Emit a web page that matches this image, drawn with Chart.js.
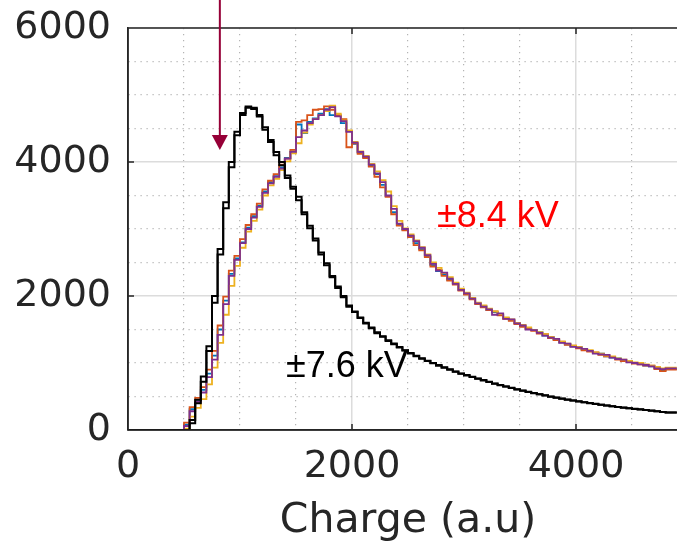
<!DOCTYPE html>
<html>
<head>
<meta charset="utf-8">
<script src="https://cdn.jsdelivr.net/npm/chart.js@4"></script>
<style>
html,body{margin:0;padding:0;background:#fff;overflow:hidden;}
#wrap{position:absolute;left:0;top:0;width:700px;height:541px;}
</style>
</head>
<body>
<div id="wrap"><canvas id="c"></canvas></div>
<script>
// ---- data ----
const binStart = [0,50,100,150,200,250,300,350,400,450,500,550,600,650,700,750,800,850,900,950,
1000,1050,1100,1150,1200,1250,1300,1350,1400,1450,1500,1550,1600,1650,1700,1750,1800,1850,1900,1950,
2000,2050,2100,2150,2200,2250,2300,2350,2400,2450,2500,2550,2600,2650,2700,2750,2800,2850,2900,2950,
3000,3050,3100,3150,3200,3250,3300,3350,3400,3450,3500,3550,3600,3650,3700,3750,3800,3850,3900,3950,
4000,4050,4100,4150,4200,4250,4300,4350,4400,4450,4500,4550,4600,4650,4700,4750,4800,4850];
const binEnd = 4900;

// ±7.6 kV (black, two overlapping runs)
const black76a = [0,0,0,0,0,0,0,0,0,0,0,0,
150,450,800,1250,2000,2700,3400,4000,4450,4730,4810,4790,4700,4520,4330,4150,4000,3800,3630,3480,3250,3050,2860,2650,2490,2300,2140,2000,
1860,1770,1680,1600,1530,1460,1400,1340,1290,1240,1190,1150,1110,1070,1035,1000,970,935,905,875,
845,820,795,770,745,720,695,670,650,630,610,590,570,552,535,518,500,485,470,455,
442,428,415,402,390,378,366,355,345,335,325,316,308,300,290,280,270,262];
const black76b = [0,0,0,0,0,0,0,0,0,0,0,0,
100,400,720,1180,1900,2620,3310,3920,4400,4700,4830,4810,4680,4480,4300,4100,3950,3760,3600,3430,3220,3010,2830,2620,2460,2280,2120,1980,
1840,1760,1670,1590,1520,1445,1390,1330,1280,1230,1185,1140,1100,1065,1030,995,960,930,900,870,
840,815,790,765,740,715,690,668,648,628,605,586,568,550,533,515,498,483,468,453,
440,426,413,400,388,376,364,353,343,333,323,314,306,298,288,278,268,260];

// ±8.4 kV (four runs)
const blue84 = [0,0,0,0,0,0,0,0,0,0,0,
80,310,450,600,840,1110,1500,1930,2330,2560,
2800,3020,3190,3350,3560,3700,3790,3920,4060,4160,
4560,4430,4600,4650,4720,4790,4700,4690,4580,4460,
4270,4140,4070,3940,3820,3660,3490,3250,3060,2990,
2890,2790,2700,2590,2460,2370,2320,2240,2190,2090,
2030,1970,1890,1850,1790,1760,1720,1670,1640,1600,
1550,1520,1490,1460,1410,1390,1350,1310,1280,1250,
1240,1200,1180,1150,1140,1100,1080,1070,1040,1030,
1000,990,960,950,930,890,910];
const orange84 = [0,0,0,0,0,0,0,0,0,0,0,
110,340,480,640,900,1180,1560,1990,2380,2600,
2850,3060,3220,3380,3590,3720,3820,3960,4050,4180,
4600,4620,4700,4780,4790,4830,4780,4700,4640,4220,
4280,4120,4060,3930,3780,3620,3480,3220,3050,2980,
2880,2760,2680,2580,2440,2390,2300,2230,2170,2080,
2020,1950,1880,1830,1790,1770,1710,1660,1630,1580,
1540,1510,1480,1440,1430,1370,1340,1320,1270,1260,
1220,1190,1170,1160,1120,1100,1090,1050,1030,1020,
990,980,960,960,910,880,900];
const yellow84 = [0,0,0,0,0,0,0,0,0,0,0,
20,200,330,460,680,930,1300,1720,2150,2450,
2720,2960,3120,3290,3500,3650,3750,3880,4010,4130,
4280,4440,4560,4640,4700,4760,4840,4720,4620,4470,
4300,4160,4090,3970,3860,3730,3560,3340,3120,3010,
2920,2830,2730,2620,2500,2420,2340,2280,2200,2110,
2050,1970,1900,1860,1810,1770,1730,1680,1650,1600,
1570,1530,1490,1460,1430,1390,1360,1320,1290,1260,
1240,1210,1190,1160,1140,1110,1100,1070,1050,1030,
1010,1000,980,960,940,920,930];
const purple84 = [0,0,0,0,0,0,0,0,0,0,0,
60,280,420,560,790,1050,1420,1880,2300,2540,
2790,3000,3170,3330,3540,3680,3780,3900,4050,4150,
4370,4470,4580,4640,4700,4780,4820,4680,4610,4450,
4290,4150,4080,3960,3830,3700,3500,3300,3080,3000,
2900,2820,2720,2610,2480,2380,2350,2260,2180,2090,
2040,1960,1890,1840,1800,1720,1740,1660,1650,1590,
1560,1500,1490,1450,1410,1380,1360,1300,1290,1240,
1230,1210,1180,1140,1130,1120,1080,1060,1050,1010,
1000,980,970,950,920,910,920];

const xMin = 0, xMax = 5000, xStep = 500, xMajor = 2000;
const yMin = 0, yMax = 6000, yStep = 500, yMajor = 2000;
const xTitle = 'Charge (a.u)';

// annotations in data units
const label84 = {text:'±8.4 kV', x:2759, y:3030, color:'#ff0000'};
const label76 = {text:'±7.6 kV', x:1411, y:791, color:'#000000'};
const arrow = {x:820, yTail:6420, yTip:4180, color:'#960037'};

// ---- build ----
function toSteps(counts){
  const pts = binStart.map((x,i)=>({x:x, y:counts[i]}));
  pts.push({x:binEnd, y:counts[counts.length-1]});
  return pts;
}
function ds(label, counts, color, order, width){
  return {label, data:toSteps(counts), borderColor:color, backgroundColor:color,
    borderWidth:width, stepped:'after', pointRadius:0, fill:false, order:order};
}
const datasets = [
  ds('±7.6 kV a', black76a, '#000000', 0, 2),
  ds('±7.6 kV b', black76b, '#000000', 1, 2),
  ds('±8.4 kV 4', purple84, '#7E2F8E', 2, 1.8),
  ds('±8.4 kV 3', yellow84, '#EDB120', 3, 1.8),
  ds('±8.4 kV 2', orange84, '#D95319', 4, 1.8),
  ds('±8.4 kV 1', blue84, '#0072BD', 5, 1.8),
];

const AX = '#262626';
function isMajor(ctx, m){ return ctx.tick && Math.abs(ctx.tick.value % m) < 1e-6; }

const deco = {
  id:'deco',
  afterDraw(chart){
    const c = chart.ctx, a = chart.chartArea;
    const xs = chart.scales.x, ys = chart.scales.y;
    c.save();
    // box
    c.strokeStyle = AX; c.lineWidth = 1.5;
    c.beginPath();
    c.moveTo(a.left, a.bottom); c.lineTo(a.left, a.top); c.lineTo(a.right, a.top); c.lineTo(a.right, a.bottom); c.lineTo(a.left, a.bottom);
    c.stroke();
    // inward ticks
    c.beginPath();
    for (let v = xMin + xMajor; v < xMax; v += xMajor){
      const px = xs.getPixelForValue(v);
      c.moveTo(px, a.bottom); c.lineTo(px, a.bottom - 6);
      c.moveTo(px, a.top); c.lineTo(px, a.top + 6);
    }
    for (let v = yMin + yMajor; v < yMax; v += yMajor){
      const py = ys.getPixelForValue(v);
      c.moveTo(a.left, py); c.lineTo(a.left + 6, py);
    }
    c.stroke();
    // arrow
    const ax = xs.getPixelForValue(arrow.x);
    const ayT = ys.getPixelForValue(arrow.yTail);
    const ayH = ys.getPixelForValue(arrow.yTip);
    c.strokeStyle = arrow.color; c.fillStyle = arrow.color; c.lineWidth = 2;
    c.beginPath(); c.moveTo(ax, ayT); c.lineTo(ax, ayH - 12); c.stroke();
    c.beginPath(); c.moveTo(ax - 8, ayH - 15); c.lineTo(ax + 8, ayH - 15); c.lineTo(ax, ayH); c.closePath(); c.fill();
    // labels
    c.font = '36px "Liberation Sans", Arial, sans-serif';
    c.textAlign = 'left'; c.textBaseline = 'alphabetic';
    for (const L of [label84, label76]){
      c.fillStyle = L.color;
      c.fillText(L.text, xs.getPixelForValue(L.x), ys.getPixelForValue(L.y));
    }
    c.restore();
  }
};

new Chart(document.getElementById('c'), {
  type:'line',
  data:{datasets},
  options:{
    responsive:true, maintainAspectRatio:false, animation:false,
    layout:{autoPadding:false, padding:{top:28, right:12, left:0, bottom:0}},
    plugins:{legend:{display:false}, tooltip:{enabled:false}},
    scales:{
      x:{
        type:'linear', min:xMin, max:xMax,
        ticks:{stepSize:xStep, autoSkip:false, maxRotation:0, padding:14, color:AX,
          font:{family:'"DejaVu Sans", sans-serif', size:38},
          callback:(v)=> (v % xMajor === 0 && v < xMax) ? String(v) : ''},
        grid:{drawTicks:false,
          color:(ctx)=> isMajor(ctx, xMajor) ? '#dcdcdc' : '#b4b4b4',
          lineWidth:(ctx)=> isMajor(ctx, xMajor) ? 1.5 : 1.2},
        border:{display:true, color:AX, width:1.5,
          dash:(ctx)=> (ctx.tick && !isMajor(ctx, xMajor)) ? [1.2,4.8] : []},
        title:{display:true, text:xTitle, color:AX, padding:{top:0,bottom:-5},
          font:{family:'"DejaVu Sans", sans-serif', size:41}},
        afterFit:(s)=>{ s.height = 111; s.paddingLeft = 0; s.paddingRight = 0; }
      },
      y:{
        type:'linear', min:yMin, max:yMax,
        ticks:{stepSize:yStep, autoSkip:false, padding:17, color:AX,
          font:{family:'"DejaVu Sans", sans-serif', size:38},
          callback:(v)=> (v % yMajor === 0) ? String(v) : ''},
        grid:{drawTicks:false,
          color:(ctx)=> isMajor(ctx, yMajor) ? '#dcdcdc' : '#b4b4b4',
          lineWidth:(ctx)=> isMajor(ctx, yMajor) ? 1.5 : 1.2},
        border:{display:true, color:AX, width:1.5,
          dash:(ctx)=> (ctx.tick && !isMajor(ctx, yMajor)) ? [1.2,4.8] : []},
        afterFit:(s)=>{ s.width = 128; s.paddingTop = 0; s.paddingBottom = 0; }
      }
    }
  },
  plugins:[deco]
});
</script>
</body>
</html>
